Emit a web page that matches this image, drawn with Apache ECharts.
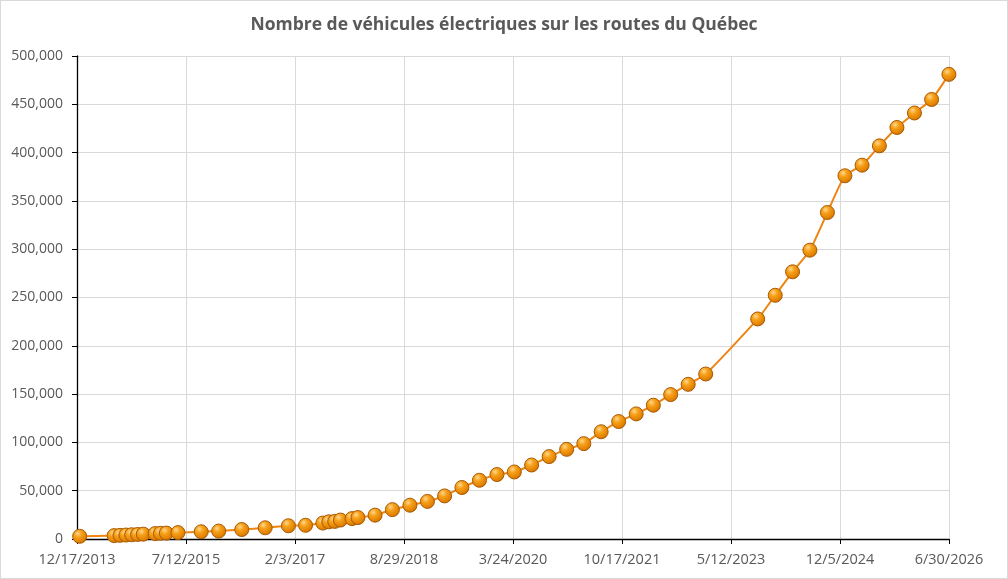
<!DOCTYPE html>
<html>
<head>
<meta charset="utf-8">
<title>Véhicules électriques Québec</title>
<script src="https://cdn.jsdelivr.net/npm/echarts@6/dist/echarts.min.js"></script>
<style>
    html, body { margin: 0; padding: 0; background: #fff; }
    #main { width: 1008px; height: 579px; box-sizing: border-box; border: 1px solid #d9d9d9; }
</style>
</head>
<body>
<div id="main"></div>
<script>
// dates de relevé (fin de mois / trimestre)
var dates = [
    '2013-12-31',
    '2014-06-30', '2014-07-31', '2014-08-31', '2014-09-30', '2014-10-31', '2014-11-30',
    '2015-01-31', '2015-02-28', '2015-03-31', '2015-05-31', '2015-09-30', '2015-12-31',
    '2016-04-30', '2016-08-31', '2016-12-31',
    '2017-03-31', '2017-06-30', '2017-07-31', '2017-08-31', '2017-09-30', '2017-11-30', '2017-12-31',
    '2018-03-31', '2018-06-30', '2018-09-30', '2018-12-31',
    '2019-03-31', '2019-06-30', '2019-09-30', '2019-12-31',
    '2020-03-31', '2020-06-30', '2020-09-30', '2020-12-31',
    '2021-03-31', '2021-06-30', '2021-09-30', '2021-12-31',
    '2022-03-31', '2022-06-30', '2022-09-30', '2022-12-31',
    '2023-09-30', '2023-12-31',
    '2024-03-31', '2024-06-30', '2024-09-30', '2024-12-31',
    '2025-03-31', '2025-06-30', '2025-09-30', '2025-12-31',
    '2026-03-31', '2026-06-30'
];
var vehicles = [
    2800,
    3500, 3800, 4100, 4400, 4700, 5000,
    5600, 5900, 6100, 6600, 7500, 8200,
    9800, 11600, 13700,
    14200, 16500, 17800, 18200, 19600, 21100, 22200,
    24700, 30400, 35000, 38900,
    44600, 53300, 60800, 66700,
    69400, 76600, 85300, 92800,
    98700, 111000, 121600, 129500,
    138500, 149500, 160100, 170800,
    227800, 252300,
    276600, 299000, 338000, 376000,
    387000, 407000, 426000, 441000,
    455000, 481000
];

// axe des x : jours depuis le 12/17/2013 (début de l'axe), 8 graduations
var axisStart = Date.UTC(2013, 11, 17);
var tickStep = 572.3;
var axisDays = tickStep * 8;
var DAY = 86400000;

function dayOffset(s) {
    var p = s.split('-');
    return (Date.UTC(+p[0], +p[1] - 1, +p[2]) - axisStart) / DAY;
}

function formatDay(v) {
    var d = new Date(axisStart + Math.floor(v + 1e-6) * DAY);
    return (d.getUTCMonth() + 1) + '/' + d.getUTCDate() + '/' + d.getUTCFullYear();
}

var seriesData = [];
for (var i = 0; i < dates.length; i++) {
    seriesData.push([dayOffset(dates[i]), vehicles[i]]);
}

var labelColor = '#595959';
var font = 'Open Sans';

var myChart = echarts.init(document.getElementById('main'));
myChart.setOption({
    backgroundColor: '#fff',
    animation: false,
    title: {
        text: 'Nombre de véhicules électriques sur les routes du Québec',
        left: 'center',
        top: 10,
        textStyle: {
            color: labelColor,
            fontFamily: font,
            fontSize: 17.5,
            fontWeight: 'bold'
        }
    },
    grid: {
        left: 76,
        right: 58,
        top: 55,
        bottom: 39,
        containLabel: false
    },
    xAxis: {
        type: 'value',
        min: 0,
        max: axisDays,
        interval: tickStep,
        axisLine: { show: true, lineStyle: { color: '#000', width: 1.3 } },
        axisTick: { show: true, length: 5, lineStyle: { color: '#000' } },
        splitLine: { show: true, lineStyle: { color: '#d9d9d9', width: 1 } },
        axisLabel: {
            color: labelColor,
            fontFamily: font,
            fontSize: 14.5,
            margin: 13,
            showMinLabel: true,
            showMaxLabel: true,
            formatter: formatDay
        }
    },
    yAxis: {
        type: 'value',
        min: 0,
        max: 500000,
        interval: 50000,
        axisLine: { show: true, lineStyle: { color: '#000', width: 1.3 } },
        axisTick: { show: true, length: 5, lineStyle: { color: '#000' } },
        splitLine: { show: true, lineStyle: { color: '#d9d9d9', width: 1 } },
        axisLabel: {
            color: labelColor,
            fontFamily: font,
            fontSize: 14,
            margin: 14,
            formatter: function (v) { return v.toLocaleString('en-US'); }
        }
    },
    series: [{
        name: 'Véhicules électriques',
        type: 'line',
        data: seriesData,
        smooth: 0.2,
        symbol: 'circle',
        symbolSize: 14,
        lineStyle: { color: '#ee8512', width: 2 },
        itemStyle: {
            color: {
                type: 'radial', x: 0.38, y: 0.32, r: 0.7,
                colorStops: [
                    { offset: 0, color: '#ffd890' },
                    { offset: 0.35, color: '#f7a11a' },
                    { offset: 0.85, color: '#e07e00' },
                    { offset: 1, color: '#b35f00' }
                ]
            },
            borderColor: '#a85a06',
            borderWidth: 1
        }
    }]
});
</script>
</body>
</html>
